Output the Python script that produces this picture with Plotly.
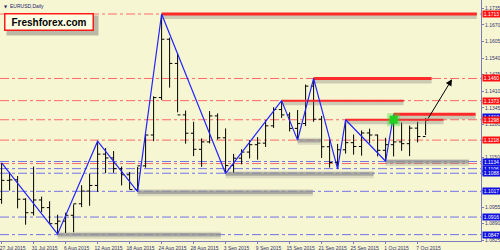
import plotly.graph_objects as go

# ---------------- data ----------------
bar_idx = list(range(54))
opens = [1.0985, 1.1060, 1.1062, 1.0986, 1.0933, 1.0983, 1.0953, 1.0890, 1.0900, 1.0923,
         1.0968, 1.1018, 1.1040, 1.1163, 1.1148, 1.1106, 1.1082, 1.1024, 1.1117, 1.1238,
         1.1385, 1.1614, 1.1519, 1.1317, 1.1245, 1.1182, 1.1211, 1.1313, 1.1227, 1.1118,
         1.1147, 1.1171, 1.1200, 1.1206, 1.1274, 1.1338, 1.1317, 1.1264, 1.1283, 1.1430,
         1.1300, 1.1192, 1.1130, 1.1180, 1.1208, 1.1193, 1.1246, 1.1238, 1.1178, 1.1200,
         1.1211, 1.1204, 1.1265, 1.1232]
highs = [1.1129, 1.1093, 1.1077, 1.0990, 1.1114, 1.0996, 1.0978, 1.0925, 1.0933, 1.0966,
         1.1041, 1.1087, 1.1214, 1.1187, 1.1175, 1.1114, 1.1093, 1.1113, 1.1240, 1.1390,
         1.1713, 1.1620, 1.1560, 1.1334, 1.1290, 1.1225, 1.1332, 1.1323, 1.1264, 1.1164,
         1.1182, 1.1218, 1.1230, 1.1297, 1.1347, 1.1373, 1.1327, 1.1336, 1.1436, 1.1460,
         1.1313, 1.1227, 1.1203, 1.1298, 1.1240, 1.1256, 1.1263, 1.1240, 1.1227, 1.1318,
         1.1287, 1.1275, 1.1290, 1.1305]
lows = [1.0968, 1.1020, 1.0950, 1.0886, 1.0922, 1.0935, 1.0890, 1.0849, 1.0853, 1.0856,
        1.0955, 1.0960, 1.1015, 1.1088, 1.1090, 1.1040, 1.1025, 1.1016, 1.1110, 1.1214,
        1.1375, 1.1424, 1.1327, 1.1204, 1.1155, 1.1113, 1.1205, 1.1220, 1.1087, 1.1088,
        1.1123, 1.1146, 1.1141, 1.1191, 1.1266, 1.1305, 1.1252, 1.1218, 1.1273, 1.1290,
        1.1148, 1.1110, 1.1105, 1.1165, 1.1161, 1.1157, 1.1205, 1.1154, 1.1135, 1.1154,
        1.1176, 1.1155, 1.1209, 1.1238]
closes = [1.1060, 1.1062, 1.0986, 1.0933, 1.0983, 1.0953, 1.0890, 1.0900, 1.0923, 1.0968,
          1.1018, 1.1040, 1.1163, 1.1148, 1.1106, 1.1082, 1.1024, 1.1117, 1.1238, 1.1385,
          1.1614, 1.1519, 1.1317, 1.1245, 1.1182, 1.1211, 1.1313, 1.1227, 1.1118, 1.1147,
          1.1171, 1.1200, 1.1206, 1.1274, 1.1338, 1.1317, 1.1264, 1.1283, 1.1430, 1.1300,
          1.1192, 1.1130, 1.1180, 1.1208, 1.1193, 1.1246, 1.1238, 1.1178, 1.1200, 1.1211,
          1.1204, 1.1265, 1.1232, 1.1295]

date_tick_idx = [0, 4, 8, 12, 16, 20, 24, 28, 32, 36, 40, 44, 48, 52]
date_tick_text = ["27 Jul 2015", "31 Jul 2015", "6 Aug 2015", "12 Aug 2015", "18 Aug 2015",
                  "24 Aug 2015", "28 Aug 2015", "3 Sep 2015", "9 Sep 2015", "15 Sep 2015",
                  "21 Sep 2015", "25 Sep 2015", "1 Oct 2015", "7 Oct 2015"]

price_ticks = [1.1735, 1.1670, 1.1605, 1.1540, 1.1475, 1.1410, 1.1345, 1.1280,
               1.1215, 1.1150, 1.1085, 1.1020, 1.0955, 1.0890, 1.0825]

zigzag_idx = [0, 7, 12, 17, 20, 28, 35, 37, 39, 42, 43, 48, 49]
zigzag_px = [1.1129, 1.0849, 1.1214, 1.1016, 1.1713, 1.1087, 1.1373, 1.1218, 1.1460,
             1.1105, 1.1298, 1.1135, 1.1318]

red_dash_levels = [1.1713, 1.1460, 1.1373, 1.1298, 1.1218, 1.1126]
blue_dash_levels = [1.1134, 1.1106, 1.1088, 1.1017, 1.0916, 1.0847]
red_label_levels = [1.1713, 1.1460, 1.1373, 1.1298, 1.1218]
blue_label_levels = [1.1310, 1.1134, 1.1106, 1.1088, 1.1017, 1.0916, 1.0847]

red_seg_start = [20, 39, 35, 43, 49]
red_seg_end = [59.4, 53.75, 50.25, 55.25, 59.25]
red_seg_price = [1.1713, 1.1460, 1.1373, 1.1298, 1.1320]
red_seg_width = [3, 3, 2, 2, 3]

gray_seg_start = [7, 17, 28, 37, 48]
gray_seg_end = [27.4, 38.9, 46.5, 39.9, 58.4]
gray_seg_price = [1.0849, 1.1016, 1.1087, 1.1218, 1.1135]

breakout_idx = [49]
breakout_px = [1.1298]

arrow_from = (53.2, 1.1297)
arrow_to = (56.3, 1.1457)

# ---------------- style ----------------
BG = "#F7F6D3"
AXIS = "#7C7CB8"
TXT = "#34346E"
W, H = 500, 250
ML, MR, MT, MB = 0, 19, 0, 9
PW, PH = W - ML - MR, H - MT - MB
Y0, Y1 = 1.0822, 1.1768
PX_PER_UNIT = PH / (Y1 - Y0)

fig = go.Figure()

# dash-dot full-width levels
shapes = []
for v in red_dash_levels:
    shapes.append(dict(type="line", xref="paper", x0=0, x1=1, yref="y", y0=v, y1=v,
                       line=dict(color="rgba(255,90,90,0.9)", width=1, dash="dashdot"),
                       layer="below"))
for v in blue_dash_levels:
    shapes.append(dict(type="line", xref="paper", x0=0, x1=1, yref="y", y0=v, y1=v,
                       line=dict(color="rgba(100,100,235,0.9)", width=1, dash="dashdot"),
                       layer="below"))

# gray support bars (soft)
for s, e, p in zip(gray_seg_start, gray_seg_end, gray_seg_price):
    fig.add_trace(go.Scatter(x=[s, e], y=[p - 1.2 / PX_PER_UNIT] * 2, mode="lines",
                             line=dict(color="rgba(120,120,120,0.22)", width=7),
                             hoverinfo="skip"))
    fig.add_trace(go.Scatter(x=[s, e], y=[p - 0.6 / PX_PER_UNIT] * 2, mode="lines",
                             line=dict(color="rgba(150,150,150,0.75)", width=3.5),
                             hoverinfo="skip"))

# red resistance segments with shadow
for s, e, p, w in zip(red_seg_start, red_seg_end, red_seg_price, red_seg_width):
    fig.add_trace(go.Scatter(x=[s, e], y=[p - 2 / PX_PER_UNIT] * 2, mode="lines",
                             line=dict(color="rgba(120,120,120,0.35)", width=w + 3),
                             hoverinfo="skip"))
    fig.add_trace(go.Scatter(x=[s, e], y=[p, p], mode="lines",
                             line=dict(color="#FF2A2A", width=w), hoverinfo="skip"))

# OHLC bars
fig.add_trace(go.Ohlc(x=bar_idx, open=opens, high=highs, low=lows, close=closes,
                      increasing=dict(line=dict(color="#000000", width=1)),
                      decreasing=dict(line=dict(color="#000000", width=1)),
                      tickwidth=0.35, hoverinfo="skip"))

# zigzag
fig.add_trace(go.Scatter(x=zigzag_idx, y=zigzag_px, mode="lines",
                         line=dict(color="#2424FF", width=1.2), hoverinfo="skip"))

# breakout marker
fig.add_trace(go.Scatter(x=breakout_idx, y=breakout_px, mode="markers",
                         marker=dict(symbol="square", size=13, color="rgba(40,220,40,0.35)"),
                         hoverinfo="skip"))
fig.add_trace(go.Scatter(x=breakout_idx, y=breakout_px, mode="markers",
                         marker=dict(symbol="square", size=8, color="#22D022"),
                         hoverinfo="skip"))

annotations = []
# arrow
annotations.append(dict(x=arrow_to[0], y=arrow_to[1], ax=arrow_from[0], ay=arrow_from[1],
                        xref="x", yref="y", axref="x", ayref="y", text="", showarrow=True,
                        arrowhead=2, arrowsize=1.3, arrowwidth=1, arrowcolor="#000000"))

# price labels
def price_label(v, color):
    return dict(xref="paper", x=1, xanchor="left", xshift=1, yref="y", y=v,
                yanchor="middle", text=f"{v:.4f}", showarrow=False,
                font=dict(family="Liberation Sans", size=5, color="#FFFFFF"),
                bgcolor=color, width=17, height=6, borderpad=0, align="center")

for v in blue_label_levels:
    annotations.append(price_label(v, "#1010E0"))
for v in red_label_levels:
    annotations.append(price_label(v, "#FF1010"))

# header text
annotations.append(dict(xref="paper", yref="paper", x=2 / PW, y=1 - 2 / PH,
                        xanchor="left", yanchor="top", text="▼", showarrow=False,
                        font=dict(family="DejaVu Sans", size=4, color="#1A1A6A")))
annotations.append(dict(xref="paper", yref="paper", x=8 / PW, y=1 - 1.5 / PH,
                        xanchor="left", yanchor="top", text="EURUSD,Daily", showarrow=False,
                        font=dict(family="Liberation Sans", size=5, color="#1A1A6A")))

# logo box (shadow + box)
annotations.append(dict(xref="paper", yref="paper", x=6 / PW, y=1 - 15 / PH,
                        xanchor="left", yanchor="top", text=" ", showarrow=False,
                        width=89, height=17, bgcolor="rgba(110,110,110,0.45)"))
annotations.append(dict(xref="paper", yref="paper", x=4 / PW, y=1 - 13 / PH,
                        xanchor="left", yanchor="top", text="<b>Freshforex.com</b>",
                        showarrow=False, width=85, height=13,
                        font=dict(family="Liberation Sans", size=10, color="#000000"),
                        bgcolor="#FFFFE4", bordercolor="#FF1A1A", borderwidth=1.5,
                        borderpad=1))

fig.update_layout(
    width=W, height=H,
    margin=dict(l=ML, r=MR, t=MT, b=MB),
    paper_bgcolor=BG, plot_bgcolor=BG,
    showlegend=False,
    shapes=shapes,
    annotations=annotations,
    hovermode=False,
)
fig.update_xaxes(range=[-0.2, PW / 8 - 0.2], tickvals=date_tick_idx, ticktext=date_tick_text,
                 showgrid=False, zeroline=False, ticks="outside", ticklen=2, tickcolor=AXIS,
                 showline=True, linecolor=AXIS, linewidth=1, mirror=True,
                 tickfont=dict(family="Liberation Sans", size=5, color=TXT),
                 ticklabelshift=11, ticklabeloverflow="allow",
                 rangeslider=dict(visible=False), automargin=False)
fig.update_yaxes(range=[Y0, Y1], side="right", tickvals=price_ticks,
                 ticktext=[f"{v:.4f}" for v in price_ticks],
                 showgrid=False, zeroline=False, ticks="outside", ticklen=2, tickcolor=AXIS,
                 showline=True, linecolor=AXIS, linewidth=1, mirror=True,
                 tickfont=dict(family="Liberation Sans", size=5, color=TXT),
                 ticklabeloverflow="allow", automargin=False)

fig.write_html("out.html")
